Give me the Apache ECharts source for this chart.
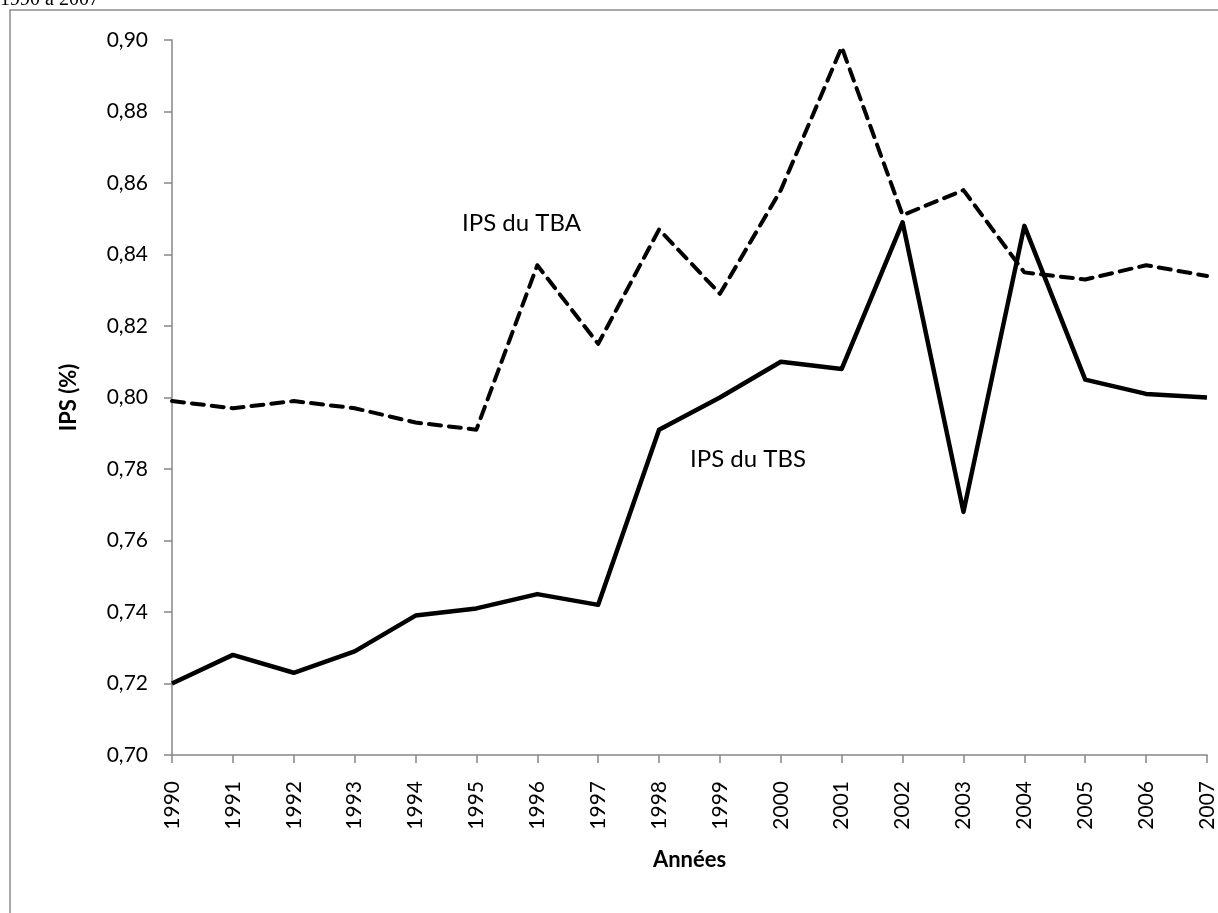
<!DOCTYPE html>
<html>
<head>
<meta charset="utf-8">
<script src="https://cdn.jsdelivr.net/npm/echarts@6/dist/echarts.min.js"></script>
<style>
  html, body { margin: 0; padding: 0; background: #fff; }
  #chart { width: 1218px; height: 913px; }
</style>
</head>
<body>
<div id="chart"></div>
<script>
// Années couvertes
const annees = ['1990','1991','1992','1993','1994','1995','1996','1997','1998',
                '1999','2000','2001','2002','2003','2004','2005','2006','2007'];

// Indice de parité entre les sexes du taux brut d'admission (TBA)
const ipsTBA = [0.799, 0.797, 0.799, 0.797, 0.793, 0.791, 0.837, 0.815, 0.847,
                0.829, 0.858, 0.898, 0.851, 0.858, 0.835, 0.833, 0.837, 0.834];

// Indice de parité entre les sexes du taux brut de scolarisation (TBS)
const ipsTBS = [0.720, 0.728, 0.723, 0.729, 0.739, 0.741, 0.745, 0.742, 0.791,
                0.800, 0.810, 0.808, 0.849, 0.768, 0.848, 0.805, 0.801, 0.800];

const axisGrey = '#868686';
const sansFont = 'Lato, "Open Sans", sans-serif';

const chart = echarts.init(document.getElementById('chart'));
chart.setOption({
  animation: false,
  backgroundColor: '#fff',
  grid: { left: 172, right: 11, top: 40, bottom: 158, containLabel: false },
  xAxis: {
    type: 'category',
    data: annees,
    boundaryGap: false,
    name: 'Années',
    nameLocation: 'middle',
    nameGap: 94,
    nameMoveOverlap: false,
    nameTextStyle: { fontFamily: sansFont, fontSize: 22, fontWeight: 'bold', color: '#000' },
    axisLine: { lineStyle: { color: axisGrey, width: 1.5 } },
    axisTick: { alignWithLabel: true, length: 8, lineStyle: { color: axisGrey, width: 1.5 } },
    axisLabel: { rotate: 90, margin: 26, fontFamily: sansFont, fontSize: 21, color: '#000' },
    splitLine: { show: false }
  },
  yAxis: {
    type: 'value',
    min: 0.70,
    max: 0.90,
    interval: 0.02,
    name: 'IPS (%)',
    nameLocation: 'middle',
    nameRotate: 90,
    nameGap: 92,
    nameTextStyle: { fontFamily: sansFont, fontSize: 22, fontWeight: 'bold', color: '#000' },
    axisLine: { show: true, lineStyle: { color: axisGrey, width: 1.5 } },
    axisTick: { show: true, length: 8, lineStyle: { color: axisGrey, width: 1.5 } },
    axisLabel: {
      margin: 24,
      fontFamily: sansFont,
      fontSize: 21,
      color: '#000',
      formatter: v => v.toFixed(2).replace('.', ',')
    },
    splitLine: { show: false }
  },
  series: [
    {
      name: 'IPS du TBA',
      type: 'line',
      data: ipsTBA,
      symbol: 'none',
      lineStyle: { color: '#000', width: 4, type: [12, 8], cap: 'round', join: 'round' }
    },
    {
      name: 'IPS du TBS',
      type: 'line',
      data: ipsTBS,
      symbol: 'none',
      lineStyle: { color: '#000', width: 4.5, type: 'solid', join: 'round' }
    }
  ],
  graphic: [
    {
      type: 'rect',
      shape: { x: 10, y: 10, width: 1230, height: 1000 },
      style: { fill: 'none', stroke: '#8c8c8c', lineWidth: 1.5 },
      z: -1
    },
    {
      type: 'text',
      left: 0,
      top: -10,
      style: { text: '1990 à 2007', font: '20px "Liberation Serif", serif', fill: '#000' }
    },
    {
      type: 'text',
      left: 462,
      top: 211,
      style: { text: 'IPS du TBA', font: '24px ' + sansFont, fill: '#000' }
    },
    {
      type: 'text',
      left: 690,
      top: 447,
      style: { text: 'IPS du TBS', font: '24px ' + sansFont, fill: '#000' }
    }
  ]
});
</script>
</body>
</html>
